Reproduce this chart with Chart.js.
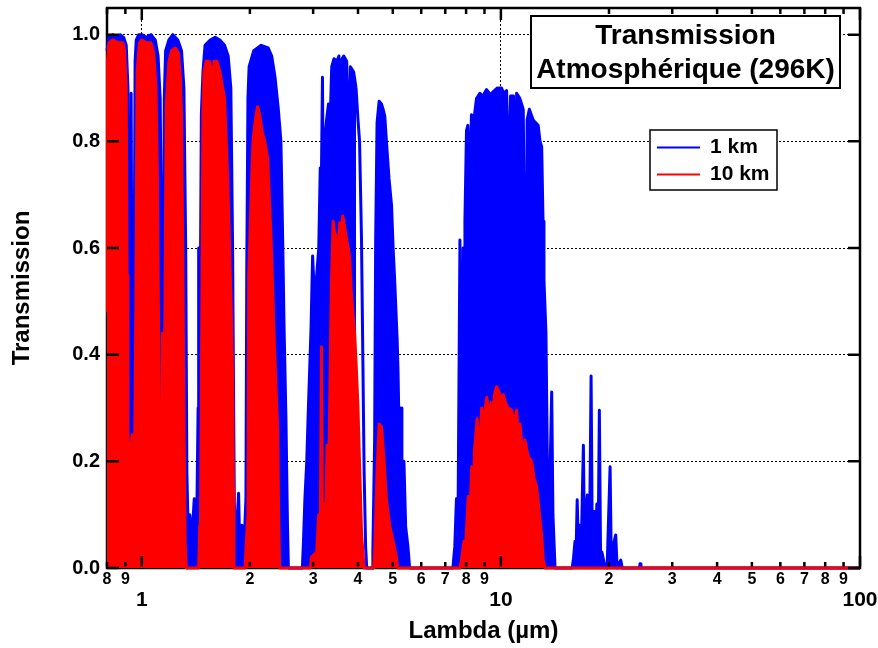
<!DOCTYPE html>
<html>
<head>
<meta charset="utf-8">
<title>Transmission atmosphérique</title>
<script src="https://cdn.jsdelivr.net/npm/chart.js@4.4.1/dist/chart.umd.min.js"></script>
<style>
  html, body { margin: 0; padding: 0; background: #fff; }
  #wrap { width: 878px; height: 648px; }
</style>
</head>
<body>
<div id="wrap"><canvas id="myChart"></canvas></div>
<script>
const FONT = '"Liberation Sans", Arial, sans-serif';

const chartTitle = ["Transmission", "Atmosphérique (296K)"];

// x ticks (log axis): small digits on the first row, decades on the second
const xTickValues = [0.8, 0.9, 1, 2, 3, 4, 5, 6, 7, 8, 9, 10, 20, 30, 40, 50, 60, 70, 80, 90, 100];
const xTickLabels = ["8", "9", "", "2", "3", "4", "5", "6", "7", "8", "9", "", "2", "3", "4", "5", "6", "7", "8", "9", ""];
const xMajorValues = [1, 10, 100];
const xMajorLabels = ["1", "10", "100"];

const yTickValues = [0, 0.2, 0.4, 0.6, 0.8, 1.0];
const yTickLabels = ["0.0", "0.2", "0.4", "0.6", "0.8", "1.0"];

// [lambda (um), transmission]
const blue1km = [
  [0.80, 0.97], [0.81, 0.995], [0.83, 1.0], [0.85, 0.995], [0.87, 1.0], [0.89, 0.995], [0.905, 0.98],
  [0.915, 0.9], [0.92, 0.4], [0.928, 0.35], [0.934, 0.89], [0.94, 0.3], [0.947, 0.2], [0.953, 0.6],
  [0.958, 0.95], [0.965, 0.99], [0.98, 1.0], [1.0, 1.0], [1.03, 0.995], [1.06, 1.0], [1.09, 0.99],
  [1.11, 0.96], [1.125, 0.88], [1.135, 0.6], [1.14, 0.43], [1.15, 0.6], [1.155, 0.88], [1.165, 0.97],
  [1.19, 0.99], [1.22, 1.0], [1.26, 0.99], [1.29, 0.97], [1.31, 0.9], [1.325, 0.6], [1.335, 0.18],
  [1.345, 0.08], [1.36, 0.1], [1.38, 0.06], [1.40, 0.13], [1.42, 0.05], [1.435, 0.3], [1.44, 0.6],
  [1.455, 0.5], [1.465, 0.85], [1.48, 0.93], [1.50, 0.98], [1.55, 0.99], [1.60, 0.995], [1.65, 0.99],
  [1.70, 0.98], [1.74, 0.96], [1.77, 0.9], [1.79, 0.6], [1.80, 0.35], [1.81, 0.12], [1.83, 0.05],
  [1.86, 0.14], [1.875, 0.03], [1.90, 0.08], [1.92, 0.02], [1.95, 0.13], [1.96, 0.55], [1.975, 0.88],
  [1.99, 0.94], [2.05, 0.97], [2.15, 0.98], [2.25, 0.975], [2.30, 0.96], [2.35, 0.92], [2.40, 0.86],
  [2.44, 0.8], [2.47, 0.6], [2.49, 0.45], [2.52, 0.28], [2.545, 0.08], [2.56, 0],
  [2.80, 0], [2.82, 0.05], [2.846, 0.13], [2.88, 0.2], [2.91, 0.3], [2.96, 0.45], [2.99, 0.585],
  [3.03, 0.5], [3.07, 0.55], [3.11, 0.6], [3.14, 0.75], [3.16, 0.7], [3.185, 0.92], [3.2, 0.7],
  [3.23, 0.8], [3.27, 0.84], [3.31, 0.87], [3.35, 0.85], [3.38, 0.94], [3.43, 0.955], [3.49, 0.95],
  [3.54, 0.96], [3.56, 0.73], [3.58, 0.95], [3.65, 0.96], [3.72, 0.95], [3.78, 0.77], [3.81, 0.94],
  [3.89, 0.93], [3.95, 0.9],
  [4.0, 0.84], [4.04, 0.8], [4.09, 0.62], [4.13, 0.37], [4.16, 0.18], [4.2, 0.04], [4.23, 0],
  [4.38, 0], [4.40, 0.03], [4.45, 0.24], [4.48, 0.615], [4.52, 0.835], [4.58, 0.875], [4.65, 0.87],
  [4.70, 0.86], [4.75, 0.847], [4.80, 0.80], [4.88, 0.73], [4.96, 0.68], [5.01, 0.6], [5.06, 0.54],
  [5.14, 0.43], [5.17, 0.37], [5.22, 0.21], [5.27, 0.3], [5.30, 0.12], [5.33, 0.128], [5.37, 0.2],
  [5.43, 0.077], [5.51, 0.04], [5.57, 0],
  [7.35, 0], [7.44, 0.04], [7.52, 0.13], [7.59, 0.05], [7.69, 0.615], [7.74, 0.1], [7.79, 0.3],
  [7.85, 0.6], [7.90, 0.4], [7.94, 0.65], [8.02, 0.82], [8.09, 0.83], [8.17, 0.7], [8.28, 0.85],
  [8.41, 0.84], [8.55, 0.88], [8.74, 0.89], [8.91, 0.885], [9.12, 0.897], [9.30, 0.89], [9.37, 0.45],
  [9.43, 0.89], [9.59, 0.895], [9.78, 0.9], [9.83, 0.73], [9.89, 0.9], [10.04, 0.9], [10.19, 0.89],
  [10.37, 0.895], [10.55, 0.72], [10.64, 0.885], [10.84, 0.885], [10.98, 0.63], [11.06, 0.89],
  [11.3, 0.88], [11.54, 0.86], [11.75, 0.33], [11.83, 0.84], [12.0, 0.86], [12.3, 0.84], [12.5, 0.835],
  [12.7, 0.83], [12.85, 0.8], [12.99, 0.79], [13.1, 0.65], [13.18, 0.54], [13.35, 0.44], [13.47, 0.2],
  [13.65, 0.12], [13.85, 0.33], [13.96, 0.1], [14.15, 0],
  [15.79, 0], [15.94, 0.02], [16.08, 0.05], [16.18, 0.02], [16.31, 0.128], [16.44, 0.03], [16.57, 0.08],
  [16.72, 0.02], [16.97, 0.23], [17.1, 0.03], [17.2, 0.1], [17.41, 0.137], [17.54, 0.02], [17.66, 0.06],
  [17.83, 0.36], [17.98, 0.02], [18.11, 0.08], [18.21, 0.106], [18.35, 0.04], [18.5, 0.12], [18.65, 0.03],
  [18.8, 0.296], [18.95, 0.02], [19.1, 0.03], [19.38, 0.01], [19.76, 0], [20.14, 0.19], [20.29, 0.02],
  [20.52, 0.04], [20.88, 0.062], [21.07, 0], [21.57, 0.015], [21.77, 0], [24.33, 0], [24.4, 0.008],
  [24.55, 0], [100, 0],
];

const red10km = [
  [0.80, 0.48], [0.802, 0.95], [0.81, 0.985], [0.83, 0.99], [0.86, 0.985], [0.885, 0.985], [0.895, 0.97],
  [0.905, 0.9], [0.91, 0.55], [0.915, 0.25], [0.925, 0.2], [0.94, 0.25], [0.955, 0.22], [0.963, 0.5],
  [0.97, 0.93], [0.985, 0.985], [1.0, 0.99], [1.03, 0.985], [1.06, 0.985], [1.08, 0.965], [1.095, 0.9],
  [1.105, 0.75], [1.115, 0.4], [1.125, 0.1], [1.135, 0.05], [1.142, 0.44], [1.15, 0.1], [1.16, 0.5],
  [1.17, 0.87], [1.19, 0.95], [1.21, 0.97], [1.24, 0.975], [1.265, 0.965], [1.28, 0.92], [1.29, 0.85],
  [1.30, 0.6], [1.31, 0.3], [1.32, 0.05], [1.33, 0],
  [1.44, 0], [1.45, 0.08], [1.455, 0.02], [1.47, 0.5], [1.48, 0.85], [1.49, 0.93], [1.51, 0.95],
  [1.54, 0.95], [1.56, 0.94], [1.575, 0.82], [1.59, 0.95], [1.62, 0.95], [1.65, 0.93], [1.70, 0.88],
  [1.735, 0.73], [1.775, 0.48], [1.79, 0.36], [1.80, 0.15], [1.805, 0],
  [1.94, 0], [1.955, 0.05], [1.975, 0.1], [1.985, 0.55], [2.0, 0.62], [2.02, 0.72], [2.04, 0.8],
  [2.07, 0.84], [2.1, 0.865], [2.13, 0.85], [2.16, 0.82], [2.2, 0.8], [2.24, 0.77], [2.29, 0.62],
  [2.34, 0.42], [2.39, 0.26], [2.405, 0.1], [2.42, 0],
  [2.95, 0], [2.965, 0.02], [3.07, 0.03], [3.11, 0.1], [3.14, 0.05], [3.165, 0.415], [3.185, 0.05],
  [3.22, 0.12], [3.25, 0.08], [3.28, 0.23], [3.30, 0.1], [3.335, 0.3], [3.37, 0.52], [3.41, 0.65],
  [3.44, 0.63], [3.48, 0.62], [3.52, 0.6], [3.56, 0.647], [3.59, 0.64], [3.63, 0.66], [3.67, 0.64],
  [3.71, 0.62], [3.755, 0.6], [3.79, 0.584], [3.83, 0.52], [3.87, 0.48], [3.915, 0.44], [3.96, 0.37],
  [4.0, 0.30], [4.03, 0.22], [4.06, 0.146], [4.095, 0.06], [4.13, 0.03], [4.16, 0],
  [4.42, 0], [4.45, 0.03], [4.52, 0.18], [4.58, 0.27], [4.65, 0.265], [4.72, 0.21], [4.80, 0.128],
  [4.90, 0.08], [5.01, 0.05], [5.12, 0.02], [5.16, 0],
  [7.69, 0], [7.79, 0.02], [7.89, 0.05], [7.99, 0.05], [8.11, 0.134], [8.17, 0.06], [8.29, 0.19],
  [8.36, 0.1], [8.44, 0.22], [8.59, 0.28], [8.68, 0.2], [8.84, 0.30], [8.97, 0.28], [9.13, 0.32],
  [9.27, 0.29], [9.39, 0.31], [9.5, 0.3], [9.625, 0.33], [9.73, 0.34], [9.875, 0.33], [10.0, 0.32],
  [10.15, 0.325], [10.3, 0.31], [10.46, 0.3], [10.72, 0.296], [10.88, 0.27], [11.06, 0.296],
  [11.19, 0.24], [11.3, 0.27], [11.48, 0.22], [11.67, 0.24], [11.9, 0.21], [12.18, 0.2], [12.36, 0.17],
  [12.57, 0.153], [12.72, 0.12], [12.85, 0.09], [12.99, 0.06], [13.12, 0.015], [13.27, 0], [100, 0],
];

// the 4.2 um edge of the 1 km curve is a single thin line, not a filled band
const blueLineOnly = [3.95, 4.38];

const toPoints = (rows) => rows.map((r) => ({ x: r[0], y: r[1] }));

// frame, inward ticks, title box and legend box
const decorations = {
  id: "decorations",
  beforeDatasetsDraw(chart) {
    const { ctx, chartArea: a } = chart;
    ctx.save();
    ctx.lineWidth = 2.5;
    ctx.strokeStyle = "#000";
    ctx.strokeRect(a.left, a.top, a.right - a.left, a.bottom - a.top);
    ctx.restore();
  },
  afterDatasetsDraw(chart) {
    const { ctx, chartArea: a, scales } = chart;
    ctx.save();
    ctx.lineWidth = 2.5;
    ctx.strokeStyle = "#000";
    ctx.beginPath();
    xTickValues.forEach((v) => {
      const px = scales.x.getPixelForValue(v);
      const len = xMajorValues.includes(v) ? 12 : 6;
      ctx.moveTo(px, a.bottom - 1.5);
      ctx.lineTo(px, a.bottom - len);
      ctx.moveTo(px, a.top);
      ctx.lineTo(px, a.top + len);
    });
    yTickValues.forEach((v) => {
      const py = scales.y.getPixelForValue(v);
      ctx.moveTo(a.left, py);
      ctx.lineTo(a.left + 12, py);
      ctx.moveTo(a.right, py);
      ctx.lineTo(a.right - 12, py);
    });
    ctx.stroke();
    ctx.restore();
  },
  afterDraw(chart) {
    const ctx = chart.ctx;
    ctx.save();
    // title box
    ctx.fillStyle = "#fff";
    ctx.fillRect(531, 16, 309, 72);
    ctx.lineWidth = 2;
    ctx.strokeStyle = "#000";
    ctx.strokeRect(531, 16, 309, 72);
    ctx.fillStyle = "#000";
    ctx.font = "bold 28px " + FONT;
    ctx.textAlign = "center";
    ctx.textBaseline = "middle";
    ctx.fillText(chartTitle[0], 685.5, 36);
    ctx.fillText(chartTitle[1], 685.5, 70);
    // legend box
    ctx.fillStyle = "#fff";
    ctx.fillRect(650, 130, 127, 60);
    ctx.lineWidth = 1.5;
    ctx.strokeRect(650, 130, 127, 60);
    ctx.font = "bold 21px " + FONT;
    ctx.textAlign = "left";
    chart.data.datasets.forEach((ds, i) => {
      const y = 147.5 + i * 27;
      ctx.strokeStyle = ds.borderColor;
      ctx.lineWidth = 2;
      ctx.beginPath();
      ctx.moveTo(657, y);
      ctx.lineTo(700, y);
      ctx.stroke();
      ctx.fillStyle = "#000";
      ctx.fillText(ds.label, 710, y);
    });
    ctx.restore();
  },
};

Chart.defaults.font.family = FONT;
Chart.defaults.color = "#000";

new Chart("myChart", {
  type: "line",
  data: {
    datasets: [
      {
        label: "1 km",
        data: toPoints(blue1km),
        borderColor: "#0000ff",
        backgroundColor: "#0000ff",
        borderWidth: 3,
        borderJoinStyle: "round",
        fill: "origin",
        clip: false,
        order: 2,
        pointRadius: 0,
        tension: 0,
        segment: {
          backgroundColor: (ctx) =>
            ctx.p0.parsed.x >= blueLineOnly[0] && ctx.p1.parsed.x <= blueLineOnly[1]
              ? "rgba(0,0,0,0)"
              : "#0000ff",
        },
      },
      {
        label: "10 km",
        data: toPoints(red10km),
        borderColor: "#ff0000",
        backgroundColor: "#ff0000",
        borderWidth: 3,
        borderJoinStyle: "round",
        fill: "origin",
        clip: false,
        order: 1,
        pointRadius: 0,
        tension: 0,
      },
    ],
  },
  options: {
    responsive: true,
    maintainAspectRatio: false,
    animation: false,
    layout: { padding: { left: 0, right: 18, top: 8, bottom: 0 } },
    plugins: {
      legend: { display: false },
      title: { display: false },
      tooltip: { enabled: false },
    },
    scales: {
      x: {
        type: "logarithmic",
        position: "bottom",
        weight: 0,
        min: 0.8,
        max: 100,
        afterBuildTicks: (s) => {
          s.ticks = xTickValues.map((v) => ({ value: v }));
        },
        afterFit: (s) => {
          s.height = 20;
          s.paddingLeft = 0;
          s.paddingRight = 0;
        },
        ticks: {
          autoSkip: false,
          maxRotation: 0,
          padding: 2,
          font: { size: 16, weight: "bold" },
          callback: (v, i) => xTickLabels[i],
        },
        grid: {
          drawTicks: false,
          lineWidth: 1,
          color: (ctx) => (ctx.tick && (ctx.tick.value === 1 || ctx.tick.value === 10) ? "#000" : "rgba(0,0,0,0)"),
        },
        border: { display: false, dash: [2, 2] },
      },
      xMajor: {
        type: "logarithmic",
        position: "bottom",
        weight: 1,
        min: 0.8,
        max: 100,
        afterBuildTicks: (s) => {
          s.ticks = xMajorValues.map((v) => ({ value: v }));
        },
        afterFit: (s) => {
          s.height = 60;
          s.paddingLeft = 0;
          s.paddingRight = 0;
        },
        ticks: {
          autoSkip: false,
          maxRotation: 0,
          padding: 0,
          font: { size: 21, weight: "bold" },
          callback: (v, i) => xMajorLabels[i],
        },
        grid: { display: false, drawTicks: false },
        border: { display: false },
        title: {
          display: true,
          text: "Lambda (µm)",
          font: { size: 24, weight: "bold" },
          padding: { top: 0, bottom: 2 },
        },
      },
      y: {
        min: 0,
        max: 1.05,
        afterBuildTicks: (s) => {
          s.ticks = yTickValues.map((v) => ({ value: v }));
        },
        afterFit: (s) => {
          s.width = 107;
          s.paddingTop = 0;
          s.paddingBottom = 0;
        },
        ticks: {
          padding: 7,
          font: { size: 20, weight: "bold" },
          callback: (v, i) => yTickLabels[i],
        },
        grid: {
          drawTicks: false,
          lineWidth: 1,
          color: (ctx) => (ctx.tick && ctx.tick.value > 0 ? "#000" : "rgba(0,0,0,0)"),
        },
        border: { display: false, dash: [2, 2] },
        title: {
          display: true,
          text: "Transmission",
          font: { size: 24, weight: "bold" },
          padding: { top: 8, bottom: 0 },
        },
      },
    },
  },
  plugins: [decorations],
});
</script>
</body>
</html>
